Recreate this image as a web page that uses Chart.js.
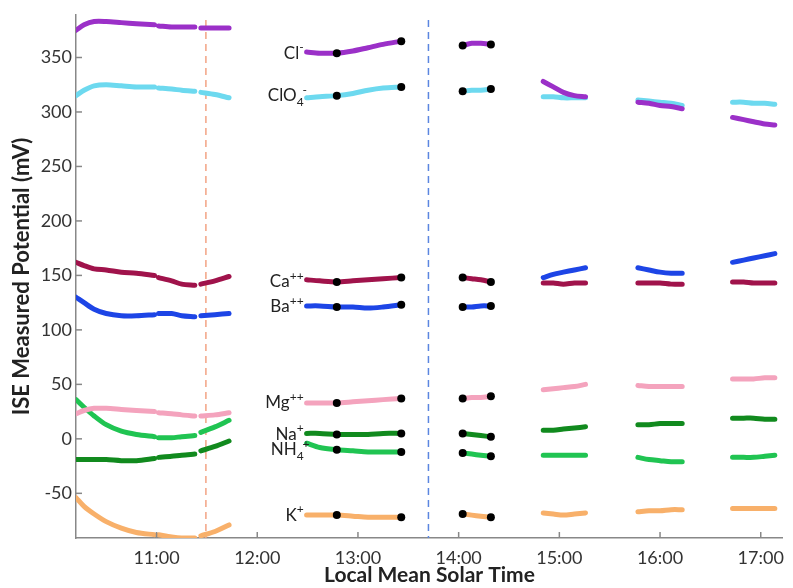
<!DOCTYPE html>
<html>
<head>
<meta charset="utf-8">
<title>ISE Measured Potential</title>
<script src="https://cdn.jsdelivr.net/npm/chart.js@4.4.1/dist/chart.umd.min.js"></script>
<style>
    html, body { margin: 0; padding: 0; background: #fff; }
    #wrap { width: 793px; height: 588px; }
</style>
</head>
<body>
<div id="wrap"><canvas id="ise-chart" width="793" height="588"></canvas></div>
<script>
// Sample times (decimal hours, local mean solar time)
const hours = [
    10.20, 10.28, 10.38, 10.50, 10.65, 10.80, 10.98,
    11.02, 11.15, 11.25, 11.38,
    11.44, 11.58, 11.72,
    12.49, 12.62, 12.79, 12.95, 13.10, 13.25, 13.43,
    14.04, 14.13, 14.22, 14.32,
    14.84, 14.94, 15.04, 15.15, 15.26,
    15.78, 15.89, 16.00, 16.11, 16.22,
    16.72, 16.83, 16.93, 17.04, 17.14
];
// line breaks after these times
const breakAfter = [10.98, 11.38, 11.72, 13.43, 14.32, 15.26, 16.22];
// black calibration markers
const markerHours = [12.79, 13.43, 14.04, 14.32];
// dashed event lines
const eventHours = [11.49, 13.70];

const xTicks = [11, 12, 13, 14, 15, 16, 17];
const yTicks = [-50, 0, 50, 100, 150, 200, 250, 300, 350];

// Sensor readings (mV)
const cl = [375, 380, 383, 383, 382, 381, 380, 379, 378, 378, 378, 377, 377, 377,
    355, 354, 354, 356, 359, 362, 365, 361, 363, 363, 362,
    328, 323, 318, 315, 314, 309, 308, 306, 305, 303, 295, 293, 291, 289, 288];
const clo4 = [315, 320, 324, 325, 324, 323, 323, 322, 321, 320, 319, 318, 316, 313,
    313, 314, 315, 317, 320, 322, 323, 319, 320, 320, 321,
    314, 314, 313, 313, 313, 311, 310, 309, 308, 306, 309, 309, 308, 308, 307];
const ca = [162, 159, 156, 155, 153, 152, 150, 148, 145, 142, 141, 142, 145, 149,
    146, 145, 144, 145, 146, 147, 148, 148, 147, 146, 144,
    143, 143, 142, 143, 143, 143, 143, 143, 142, 142, 144, 144, 143, 143, 143];
const ba = [130, 125, 119, 115, 113, 113, 114, 115, 115, 113, 112, 113, 114, 115,
    122, 122, 121, 121, 120, 121, 123, 121, 121, 122, 122,
    148, 151, 153, 155, 157, 157, 155, 153, 152, 152, 162, 164, 166, 168, 170];
const mg = [23, 26, 28, 28, 27, 26, 25, 24, 23, 22, 21, 21, 22, 24,
    33, 33, 33, 34, 35, 36, 37, 37, 38, 38, 39,
    45, 46, 47, 48, 50, 49, 48, 48, 48, 48, 55, 55, 55, 56, 56];
const na = [-19, -19, -19, -19, -20, -20, -18, -17, -16, -15, -14, -11, -7, -2,
    5, 5, 4, 4, 4, 5, 5, 5, 4, 3, 2,
    8, 8, 9, 10, 11, 13, 13, 14, 14, 14, 19, 19, 19, 18, 18];
const nh4 = [36, 29, 21, 13, 7, 4, 2, 1, 1, 2, 3, 6, 11, 17,
    -4, -8, -10, -11, -12, -12, -12, -13, -14, -15, -16,
    -15, -15, -15, -15, -15, -17, -19, -20, -21, -21, -17, -17, -17, -16, -15];
const k = [-54, -62, -69, -76, -82, -86, -88, -88, -90, -91, -91, -89, -85, -79,
    -70, -70, -70, -71, -72, -72, -72, -69, -70, -71, -72,
    -68, -69, -70, -69, -68, -67, -66, -66, -65, -65, -64, -64, -64, -64, -64];

const sensors = [
    { name: 'Cl', sub: '', sup: '-', values: cl, color: '#9b30c8' },
    { name: 'ClO', sub: '4', sup: '-', values: clo4, color: '#6dd9ef' },
    { name: 'Ca', sub: '', sup: '++', values: ca, color: '#a0134b' },
    { name: 'Ba', sub: '', sup: '++', values: ba, color: '#1d45e6' },
    { name: 'Mg', sub: '', sup: '++', values: mg, color: '#f4a3bd' },
    { name: 'Na', sub: '', sup: '+', values: na, color: '#118a1e' },
    { name: 'NH', sub: '4', sup: '+', values: nh4, color: '#20c452' },
    { name: 'K', sub: '', sup: '+', values: k, color: '#f8b06a' }
];

const FONT = 'Lato, "Open Sans", sans-serif';

function buildPoints(values) {
    const pts = [];
    hours.forEach((h, i) => {
        pts.push({ x: h, y: values[i] });
        if (breakAfter.includes(h)) pts.push({ x: h, y: null });
    });
    return pts;
}

const datasets = sensors.map(s => ({
    label: s.name,
    data: buildPoints(s.values),
    borderColor: s.color,
    backgroundColor: s.color,
    borderWidth: 5,
    borderCapStyle: 'round',
    pointRadius: 0,
    tension: 0.3,
    spanGaps: false,
    fill: false
}));

// Black markers on top
const markerPoints = [];
sensors.forEach(s => {
    markerHours.forEach(h => {
        markerPoints.push({ x: h, y: s.values[hours.indexOf(h)] });
    });
});
datasets.push({
    label: 'markers',
    data: markerPoints,
    showLine: false,
    pointRadius: 4,
    pointBackgroundColor: '#000',
    pointBorderWidth: 0,
    order: -1
});

// Dashed event lines + inside tick marks
const overlayPlugin = {
    id: 'overlay',
    beforeDatasetsDraw(chart) {
        const { ctx, chartArea, scales: { x } } = chart;
        const colors = ['#f3a384', '#5b86e0'];
        ctx.save();
        ctx.lineWidth = 1.5;
        ctx.setLineDash([7, 5]);
        eventHours.forEach((h, i) => {
            const px = x.getPixelForValue(h);
            ctx.strokeStyle = colors[i];
            ctx.beginPath();
            ctx.moveTo(px, chartArea.top + 5);
            ctx.lineTo(px, chartArea.bottom);
            ctx.stroke();
        });
        ctx.restore();
    },
    afterDraw(chart) {
        const { ctx, chartArea, scales: { x, y } } = chart;
        ctx.save();
        ctx.strokeStyle = '#888';
        ctx.lineWidth = 1.5;
        xTicks.forEach(v => {
            const px = x.getPixelForValue(v);
            ctx.beginPath();
            ctx.moveTo(px, chartArea.bottom);
            ctx.lineTo(px, chartArea.bottom - 6);
            ctx.stroke();
        });
        yTicks.forEach(v => {
            const py = y.getPixelForValue(v);
            ctx.beginPath();
            ctx.moveTo(chartArea.left, py);
            ctx.lineTo(chartArea.left + 6, py);
            ctx.stroke();
        });
        ctx.restore();
    }
};

// Ion names next to the 12:30 segment
const ionLabelPlugin = {
    id: 'ionLabels',
    afterDatasetsDraw(chart) {
        const { ctx, scales: { x, y } } = chart;
        const right = x.getPixelForValue(hours[14]) - 3;
        const idx = hours.indexOf(markerHours[0]);
        ctx.save();
        ctx.fillStyle = '#222';
        ctx.textBaseline = 'middle';
        sensors.forEach(s => {
            const py = y.getPixelForValue(s.values[idx]);
            const big = '17px ' + FONT;
            const small = '12px ' + FONT;
            ctx.font = big;
            const wMain = ctx.measureText(s.name).width;
            ctx.font = small;
            const wSub = s.sub ? ctx.measureText(s.sub).width : 0;
            const wSup = ctx.measureText(s.sup).width;
            let px = right - wMain - Math.max(wSub, wSup);
            ctx.font = big;
            ctx.textAlign = 'left';
            ctx.fillText(s.name, px, py);
            px += wMain;
            ctx.font = small;
            if (s.sub) ctx.fillText(s.sub, px, py + 6);
            ctx.fillText(s.sup, px + (s.sub ? wSub - 1 : 0), py - 6);
        });
        ctx.restore();
    }
};

new Chart(document.getElementById('ise-chart'), {
    type: 'line',
    data: { datasets },
    options: {
        responsive: false,
        animation: false,
        devicePixelRatio: 1,
        layout: { padding: { top: 15, right: 3, left: 0, bottom: 0 } },
        plugins: {
            legend: { display: false },
            tooltip: { enabled: false }
        },
        scales: {
            x: {
                type: 'linear',
                min: 10.2,
                max: 17.22,
                afterBuildTicks: scale => { scale.ticks = xTicks.map(v => ({ value: v })); },
                afterFit: scale => { scale.height = 50; },
                grid: { display: false, drawTicks: false },
                border: { display: true, color: '#888', width: 1.5 },
                ticks: {
                    padding: 9,
                    color: '#333',
                    font: { family: FONT, size: 18 },
                    callback: v => v + ':00'
                },
                title: {
                    display: true,
                    text: 'Local Mean Solar Time',
                    color: '#222',
                    padding: { top: 0, bottom: 0 },
                    font: { family: FONT, size: 21, weight: 'bold' }
                }
            },
            y: {
                min: -91,
                max: 389,
                afterBuildTicks: scale => { scale.ticks = yTicks.map(v => ({ value: v })); },
                afterFit: scale => { scale.width = 76; },
                grid: { display: false, drawTicks: false },
                border: { display: true, color: '#888', width: 1.5 },
                ticks: {
                    padding: 4,
                    color: '#333',
                    font: { family: FONT, size: 18 }
                },
                title: {
                    display: true,
                    text: 'ISE Measured Potential (mV)',
                    color: '#222',
                    padding: { top: 9, bottom: 0 },
                    font: { family: FONT, size: 22, weight: 'bold' }
                }
            }
        }
    },
    plugins: [overlayPlugin, ionLabelPlugin]
});
</script>
</body>
</html>
